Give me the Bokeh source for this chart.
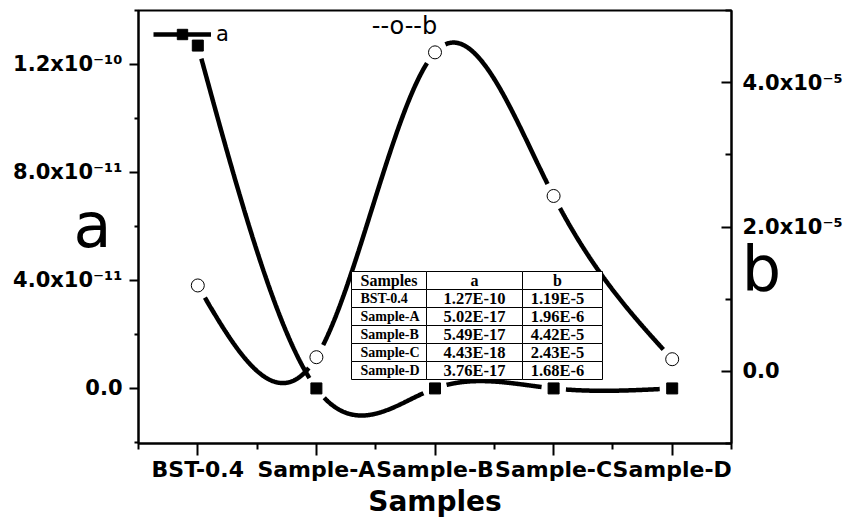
import numpy as np
from bokeh.plotting import figure
from bokeh.models import (Range1d, LinearAxis, FixedTicker, Label, BoxAnnotation,
                          Legend, LegendItem)
from bokeh.embed import file_html
from bokeh.resources import INLINE

# ---------------- data ----------------
categories = ["BST-0.4", "Sample-A", "Sample-B", "Sample-C", "Sample-D"]
a_values = [1.27e-10, 5.02e-17, 5.49e-17, 4.43e-18, 3.76e-17]
b_values = [1.19e-5, 1.96e-6, 4.42e-5, 2.43e-5, 1.68e-6]

a_ticks = [0.0, 4.0e-11, 8.0e-11, 1.2e-10]
a_tick_labels = ["0.0", "4.0x10\u207b\u00b9\u00b9", "8.0x10\u207b\u00b9\u00b9", "1.2x10\u207b\u00b9\u2070"]
a_minor_ticks = [-2.0e-11, 2.0e-11, 6.0e-11, 1.0e-10, 1.4e-10]
b_ticks = [0.0, 2.0e-5, 4.0e-5]
b_tick_labels = ["0.0", "2.0x10\u207b\u2075", "4.0x10\u207b\u2075"]
b_minor_ticks = [-1.0e-5, 1.0e-5, 3.0e-5, 5.0e-5]

table_header = ["Samples", "a", "b"]


def sci(v):
    m, e = f"{v:.2E}".split("E")
    return f"{m}E{int(e)}"


table_a = [sci(v) for v in a_values]
table_b = [sci(v) for v in b_values]

# ---------------- layout constants (page pixels) ----------------
W, H = 844, 524
FL, FR, FT, FB = 138, 731, 10, 443          # visible plot box
FW, FH = FR - FL, FB - FT
A_LO, A_HI = -2.04e-11, 1.40e-10
B_LO, B_HI = -1.0e-5, 5.0e-5
X_LO, X_HI = -0.5, len(categories) - 0.5

SX = FW / (X_HI - X_LO)
SA = FH / (A_HI - A_LO)
SB = FH / (B_HI - B_LO)

SANS = "DejaVu Sans"
SERIF = "Liberation Serif"

xs = np.arange(len(categories), dtype=float)


def natural_spline(xk, yk, n=800):
    xk = np.asarray(xk, float)
    yk = np.asarray(yk, float)
    k = len(xk)
    h = np.diff(xk)
    A = np.zeros((k, k))
    r = np.zeros(k)
    A[0, 0] = 1.0
    A[-1, -1] = 1.0
    for i in range(1, k - 1):
        A[i, i - 1] = h[i - 1]
        A[i, i] = 2 * (h[i - 1] + h[i])
        A[i, i + 1] = h[i]
        r[i] = 6 * ((yk[i + 1] - yk[i]) / h[i] - (yk[i] - yk[i - 1]) / h[i - 1])
    M = np.linalg.solve(A, r)
    xx = np.linspace(xk[0], xk[-1], n)
    idx = np.clip(np.searchsorted(xk, xx, side="right") - 1, 0, k - 2)
    x0, x1 = xk[idx], xk[idx + 1]
    hh = x1 - x0
    t0, t1 = x1 - xx, xx - x0
    yy = ((M[idx] * t0 ** 3 + M[idx + 1] * t1 ** 3) / (6 * hh)
          + (yk[idx] / hh - M[idx] * hh / 6) * t0
          + (yk[idx + 1] / hh - M[idx + 1] * hh / 6) * t1)
    return xx, yy


def gapped(xk, yk, scale_y, radius=12.0):
    xx, yy = natural_spline(xk, yk)
    mask = np.zeros_like(xx, dtype=bool)
    for xp, yp in zip(xk, yk):
        d = np.hypot((xx - xp) * SX, (yy - yp) * scale_y)
        mask |= d < radius
    yy = yy.copy()
    yy[mask] = np.nan
    return xx, yy


# ---------------- figure (frame = whole page, axes at fixed locations) ----------------
p = figure(width=W, height=H, output_backend="svg", toolbar_location=None,
           x_range=Range1d(X_LO - FL / SX, X_HI + (W - FR) / SX),
           y_range=Range1d(A_LO - (H - FB) / SA, A_HI + FT / SA),
           min_border=0)
p.extra_y_ranges = {"b": Range1d(B_LO - (H - FB) / SB, B_HI + FT / SB)}
p.title.visible = False
p.grid.visible = False
p.outline_line_color = None
p.background_fill_color = "white"
p.border_fill_color = "white"

# x axis
xa = p.xaxis[0]
xa.fixed_location = A_LO
xa.bounds = (X_LO, X_HI)
xa.ticker = FixedTicker(ticks=list(xs), minor_ticks=[x - 0.5 for x in range(len(categories) + 1)])
xa.major_label_overrides = {float(i): c for i, c in enumerate(categories)}
xa.axis_line_width = 2
xa.major_tick_line_width = 2
xa.minor_tick_line_width = 2
xa.major_tick_out = 12
xa.major_tick_in = 0
xa.minor_tick_out = 6
xa.minor_tick_in = 0
xa.major_label_standoff = 1
xa.major_label_text_font = SANS
xa.major_label_text_font_style = "bold"
xa.major_label_text_font_size = "22px"
xa.major_label_text_color = "black"
xa.axis_label = "Samples"
xa.axis_label_text_font = SANS
xa.axis_label_text_font_style = "bold"
xa.axis_label_text_font_size = "28px"
xa.axis_label_text_color = "black"
xa.axis_label_standoff = 0

# left axis (a)
ya = p.yaxis[0]
ya.fixed_location = X_LO
ya.bounds = (A_LO, A_HI)
ya.ticker = FixedTicker(ticks=a_ticks, minor_ticks=a_minor_ticks)
ya.major_label_overrides = {t: l for t, l in zip(a_ticks, a_tick_labels)}
ya.axis_line_width = 2
ya.major_tick_line_width = 2
ya.minor_tick_line_width = 2
ya.major_tick_out = 9
ya.major_tick_in = 0
ya.minor_tick_out = 4
ya.minor_tick_in = 0
ya.major_label_standoff = 7
ya.major_label_text_font = SANS
ya.major_label_text_font_style = "bold"
ya.major_label_text_font_size = "21px"
ya.major_label_text_color = "black"

# right axis (b)
yb = LinearAxis(y_range_name="b", fixed_location=X_HI, bounds=(B_LO, B_HI),
                ticker=FixedTicker(ticks=b_ticks, minor_ticks=b_minor_ticks))
yb.major_label_overrides = {t: l for t, l in zip(b_ticks, b_tick_labels)}
yb.axis_line_width = 2
yb.major_tick_line_width = 2
yb.minor_tick_line_width = 2
yb.major_tick_out = 0
yb.major_tick_in = 10
yb.minor_tick_out = 0
yb.minor_tick_in = 6
yb.major_label_standoff = 11
yb.major_label_text_font = SANS
yb.major_label_text_font_style = "bold"
yb.major_label_text_font_size = "21px"
yb.major_label_text_color = "black"
p.add_layout(yb, "right")

# box around the plotting area
p.add_layout(BoxAnnotation(left=X_LO, right=X_HI, bottom=A_LO, top=A_HI,
                           fill_alpha=0, line_color="black", line_alpha=1.0,
                           line_width=2))

# ---------------- series ----------------
ax_, ay_ = gapped(xs, a_values, SA)
bx_, by_ = gapped(xs, b_values, SB, radius=13.0)

line_a = p.line(ax_, ay_, line_color="black", line_width=4.5)
line_b = p.line(bx_, by_, line_color="black", line_width=4.5, y_range_name="b")
sq_a = p.scatter(xs, a_values, marker="square", size=11, fill_color="black",
                 line_color="black")
ci_b = p.scatter(xs, b_values, marker="circle", size=13, fill_color="white",
                 line_color="black", line_width=1, y_range_name="b")

legend = Legend(items=[LegendItem(label="a", renderers=[line_a, sq_a])],
                location=(153, H - 34 - 13), margin=0, padding=0,
                border_line_alpha=0, background_fill_alpha=0,
                glyph_width=58, glyph_height=26, label_height=26, label_standoff=5,
                label_text_font=SANS, label_text_font_size="21px",
                label_text_color="black")
p.add_layout(legend)

p.add_layout(Label(x=404, y=H - 25, x_units="screen", y_units="screen",
                   text="--o--b", text_font=SANS, text_font_size="24px",
                   text_color="black",
                   text_align="center", text_baseline="alphabetic"))

# axis titles
p.add_layout(Label(x=92, y=H - 225, x_units="screen", y_units="screen",
                   text="a", text_font=SANS, text_font_size="62px",
                   text_color="black",
                   text_align="center", text_baseline="alphabetic"))
p.add_layout(Label(x=761, y=H - 268, x_units="screen", y_units="screen",
                   text="b", text_font=SANS, text_font_size="62px",
                   text_color="black",
                   text_align="center", text_baseline="alphabetic"))

# ---------------- inset table ----------------
col_edges = [351, 426, 522, 602]
row_top, row_h = 271, 18
n_rows = len(categories) + 1
for r in range(n_rows):
    for c in range(3):
        p.add_layout(BoxAnnotation(
            left=col_edges[c], right=col_edges[c + 1],
            top=H - (row_top + r * row_h), bottom=H - (row_top + (r + 1) * row_h),
            left_units="screen", right_units="screen",
            top_units="screen", bottom_units="screen",
            fill_color="white", fill_alpha=1.0,
            line_color="black", line_alpha=1.0, line_width=1))

col_x = [360, 474, 557]
rows = [table_header] + [[c, a, b] for c, a, b in zip(categories, table_a, table_b)]
for r, row in enumerate(rows):
    yc = H - (row_top + r * row_h + row_h / 2)
    for c, txt in enumerate(row):
        if r == 0:
            size = "16px"
        elif c == 0:
            size = "14px"
        else:
            size = "16.5px"
        p.add_layout(Label(x=col_x[c], y=yc, x_units="screen", y_units="screen",
                           text=txt, text_font=SERIF, text_font_style="bold",
                           text_font_size=size, text_color="black",
                           text_align="left" if c == 0 else "center",
                           text_baseline="middle"))

open("out.html", "w").write(file_html(p, INLINE))
